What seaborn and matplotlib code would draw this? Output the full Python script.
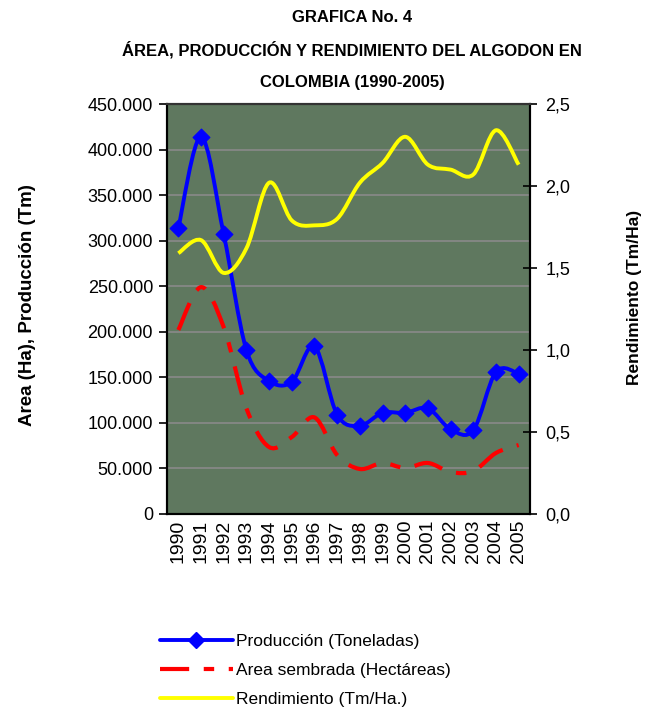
import numpy as np
import matplotlib
matplotlib.use("Agg")
import matplotlib.pyplot as plt
import seaborn as sns
from matplotlib.path import Path
from matplotlib.patches import PathPatch
from matplotlib.lines import Line2D
from matplotlib.ticker import FuncFormatter, MultipleLocator

years = [str(y) for y in range(1990, 2006)]
produccion = [314000, 414000, 307000, 180000, 146000, 145000, 184000, 109000,
              97000, 111000, 111000, 116000, 93000, 92000, 156000, 154000]
area = [202000, 249000, 205000, 116000, 73500, 84500, 106000, 64700,
        49400, 56000, 50500, 56000, 46100, 47200, 67000, 75700]
rendimiento = [1.59, 1.67, 1.47, 1.62, 2.02, 1.79, 1.76, 1.80,
               2.02, 2.14, 2.30, 2.13, 2.10, 2.07, 2.34, 2.13]

BLUE, RED, YELLOW = "#0000FF", "#FF0000", "#FFFF00"
DASH = (0, (7, 3.5, 2.5, 3.5))


def smooth_path(x, y):
    # Excel-like smoothed line: cubic bezier segments through every point
    pts = np.column_stack([x, y]).astype(float)
    n = len(pts)
    verts, codes = [pts[0]], [Path.MOVETO]
    for i in range(n - 1):
        p0, p1 = pts[max(i - 1, 0)], pts[i]
        p2, p3 = pts[i + 1], pts[min(i + 2, n - 1)]
        verts += [p1 + (p2 - p0) / 6, p2 - (p3 - p1) / 6, p2]
        codes += [Path.CURVE4] * 3
    return Path(verts, codes)


sns.set_style("white")
plt.rcParams["font.family"] = ["Liberation Sans", "DejaVu Sans"]
plt.rcParams["text.color"] = "black"
plt.rcParams["xtick.color"] = "black"
plt.rcParams["ytick.color"] = "black"

fig = plt.figure(figsize=(6.46, 7.10), dpi=100)
ax = fig.add_axes([167 / 646, 1 - 514 / 710, 363 / 646, 410 / 710])
ax2 = ax.twinx()
ax.set_facecolor("#5F785F")
ax2.patch.set_visible(False)

pos = np.arange(len(years))

ax.add_patch(PathPatch(smooth_path(pos, area), facecolor="none", edgecolor=RED,
                       lw=3, linestyle=DASH, zorder=3))
ax.add_patch(PathPatch(smooth_path(pos, produccion), facecolor="none", edgecolor=BLUE,
                       lw=2.8, zorder=4))
sns.scatterplot(x=pos, y=produccion, marker="D", s=75, color=BLUE,
                edgecolor=BLUE, ax=ax, zorder=5, legend=False)
ax2.add_patch(PathPatch(smooth_path(pos, rendimiento), facecolor="none", edgecolor=YELLOW,
                        lw=2.8, zorder=3))

ax.set_xlim(-0.5, len(years) - 0.5)
ax.set_ylim(0, 450000)
ax2.set_ylim(0, 2.5)

ax.yaxis.set_major_locator(MultipleLocator(50000))
ax.yaxis.set_major_formatter(FuncFormatter(lambda v, p: f"{int(v):,}".replace(",", ".")))
ax2.yaxis.set_major_locator(MultipleLocator(0.5))
ax2.yaxis.set_major_formatter(FuncFormatter(lambda v, p: f"{v:.1f}".replace(".", ",")))

ax.grid(True, axis="y", color="#8A8A8A", lw=1.2)
ax.set_axisbelow(True)

ax.set_xticks(pos)
ax.set_xticklabels(years, rotation=90, fontsize=14)
ax.set_xticks(np.arange(-0.5, len(years)), minor=True)
ax.tick_params(axis="x", which="major", length=0, pad=4)
ax.tick_params(axis="x", which="minor", length=6, width=1.2, color="black", direction="out")
ax.tick_params(axis="y", length=6, width=1.2, color="black", direction="out", labelsize=13, pad=4)
ax2.tick_params(axis="y", length=10, width=1.2, color="black", direction="inout", labelsize=13, pad=6)
ax.set_xlabel("")
ax.set_ylabel("")

for a in (ax, ax2):
    for s in a.spines.values():
        s.set_visible(True)
        s.set_color("black")
        s.set_linewidth(1.5)
ax2.spines["top"].set_color("#333333")

title_kw = dict(ha="center", va="center", fontsize=12, fontweight="bold")
fig.text(352 / 646, 1 - 18 / 710, "GRAFICA No. 4", **title_kw)
fig.text(352 / 646, 1 - 50 / 710, "ÁREA, PRODUCCIÓN Y RENDIMIENTO DEL ALGODON EN", **title_kw)
fig.text(352 / 646, 1 - 82 / 710, "COLOMBIA (1990-2005)", **title_kw)

fig.text(28 / 646, 1 - 305 / 710, "Area (Ha), Producción (Tm)", rotation=90,
         ha="center", va="center", fontsize=13.5, fontweight="bold")
fig.text(634 / 646, 1 - 297 / 710, "Rendimiento (Tm/Ha)", rotation=90,
         ha="center", va="center", fontsize=12.5, fontweight="bold")

handles = [
    Line2D([], [], color=BLUE, lw=2.8, marker="D", markersize=8),
    Line2D([], [], color=RED, lw=3, linestyle=DASH),
    Line2D([], [], color=YELLOW, lw=2.8),
]
labels = ["Producción (Toneladas)", "Area sembrada (Hectáreas)", "Rendimiento (Tm/Ha.)"]
fig.legend(handles, labels, loc="upper left", bbox_to_anchor=(160 / 646, 1 - 634 / 710),
           frameon=False, fontsize=12.5, handlelength=4.2, handletextpad=0.2,
           labelspacing=0.8, borderpad=0, borderaxespad=0)

fig.savefig("out.png", dpi=100)
